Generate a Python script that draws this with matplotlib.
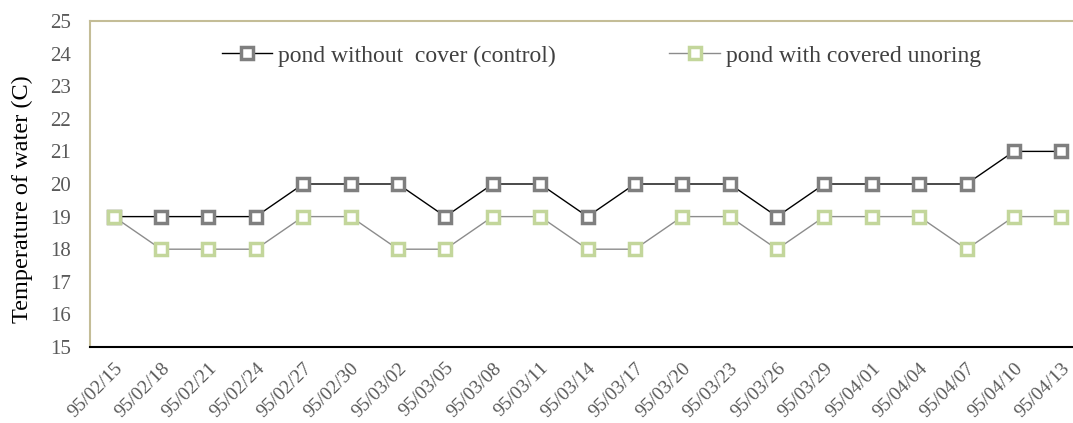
import matplotlib.pyplot as plt

# sampling dates (Persian calendar labels as in the source)
dates = ['95/02/15', '95/02/18', '95/02/21', '95/02/24', '95/02/27', '95/02/30',
         '95/03/02', '95/03/05', '95/03/08', '95/03/11', '95/03/14', '95/03/17',
         '95/03/20', '95/03/23', '95/03/26', '95/03/29', '95/04/01', '95/04/04',
         '95/04/07', '95/04/10', '95/04/13']

# water temperature (C)
control = [19, 19, 19, 19, 20, 20, 20, 19, 20, 20, 19, 20, 20, 20, 19, 20, 20, 20, 20, 21, 21]
covered = [19, 18, 18, 18, 19, 19, 18, 18, 19, 19, 18, 18, 19, 19, 18, 19, 19, 19, 18, 19, 19]

plt.rcParams['font.family'] = ['Liberation Serif', 'DejaVu Serif']

fig = plt.figure(figsize=(10.73, 4.23), dpi=100)
ax = fig.add_axes([90 / 1073, 76 / 423, 995 / 1073, 326 / 423])

x = list(range(len(dates)))
ax.plot(x, control, color='black', lw=1.0, marker='s', ms=8, mfc='white',
        mec='#7f7f7f', mew=2.5, label='pond without  cover (control)', zorder=3)
ax.plot(x, covered, color='#8c8c8c', lw=1.0, marker='s', ms=8, mfc='white',
        mec='#c3d69b', mew=2.5, label='pond with covered unoring', zorder=3)

ax.set_xlim(-0.5, len(dates) - 0.5)
ax.set_ylim(15, 25)
ax.set_yticks(range(15, 26))
ax.set_xticks(x)
ax.set_xticklabels(dates, rotation=45, ha='right', rotation_mode='anchor')
ax.tick_params(axis='both', length=0, labelcolor='#595959')
ax.tick_params(axis='y', pad=14, labelsize=15)
ax.tick_params(axis='x', pad=9, labelsize=14)

ax.set_ylabel('Temperature of water (C)', fontsize=17.5)
ax.yaxis.set_label_coords(-0.057, 0.455)

for side in ['top', 'left', 'right']:
    ax.spines[side].set_color('#c4bd97')
    ax.spines[side].set_linewidth(1.5)
ax.spines['bottom'].set_color('black')
ax.spines['bottom'].set_linewidth(1.5)

leg = ax.legend(loc='center', bbox_to_anchor=(0.514, 0.893), ncol=2, frameon=False,
                fontsize=17, handlelength=2.15, columnspacing=4.8, handletextpad=0.25)
for t in leg.get_texts():
    t.set_color('#404040')

fig.savefig('out.png', dpi=100)
